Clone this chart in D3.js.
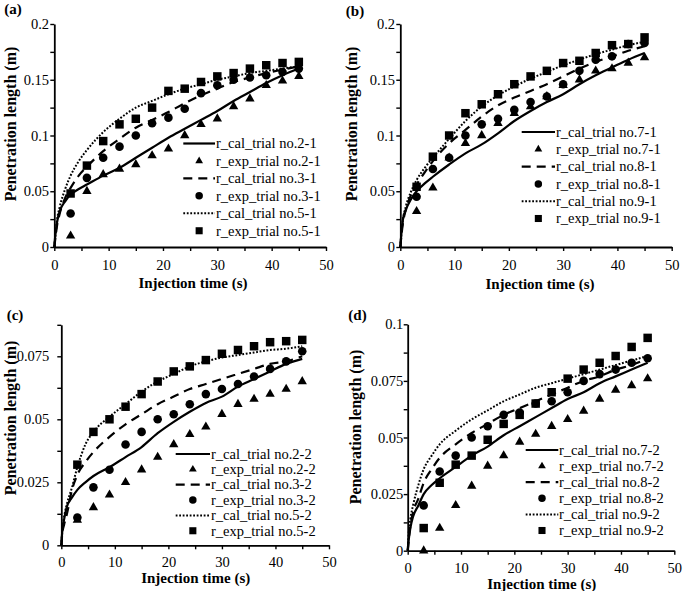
<!DOCTYPE html>
<html><head><meta charset="utf-8">
<script src="https://cdn.jsdelivr.net/npm/d3@7/dist/d3.min.js"></script>
<style>
body{margin:0;background:#fff;}
svg{display:block;}
svg text{font-family:"Liberation Serif","Times New Roman",Times,serif;}
</style></head><body>
<svg id="chart" width="685" height="591"></svg>
<script>
// ---------------- DATA ----------------
const tExp = [3, 6, 9, 12, 15, 18, 21, 24, 27, 30, 33, 36, 39, 42, 45];
const tCal = [0, 0.2, 0.5, 1, 2, 3, 4.5, 6, 9, 12, 15, 18, 21, 24, 27, 30, 33, 36, 39, 42, 45];

const xTickVals = [0, 5, 10, 15, 20, 25, 30, 35, 40, 45, 50];
const xLabelVals = [0, 10, 20, 30, 40, 50];
const yTicksAB = [0, 0.025, 0.05, 0.075, 0.1, 0.125, 0.15, 0.175, 0.2];
const yLabelsAB = [0, 0.05, 0.1, 0.15, 0.2];
const yTicksC = [0, 0.0125, 0.025, 0.0375, 0.05, 0.0625, 0.075, 0.0875];
const yLabelsC = [0, 0.025, 0.05, 0.075];
const yTicksD = [0, 0.0125, 0.025, 0.0375, 0.05, 0.0625, 0.075, 0.0875, 0.1];
const yLabelsD = [0, 0.025, 0.05, 0.075, 0.1];

// Panel (a)
const calA_2_1 = [0, 0.011, 0.022, 0.032, 0.041, 0.047, 0.052, 0.056, 0.064, 0.071, 0.080, 0.089, 0.098, 0.106, 0.114, 0.122, 0.131, 0.139, 0.147, 0.154, 0.160];
const expA_2_1 = [0.010, 0.050, 0.065, 0.070, 0.074, 0.082, 0.088, 0.100, 0.110, 0.115, 0.126, 0.133, 0.145, 0.149, 0.153];
const calA_3_1 = [0, 0.008, 0.019, 0.030, 0.044, 0.053, 0.064, 0.072, 0.086, 0.097, 0.107, 0.114, 0.121, 0.129, 0.136, 0.142, 0.148, 0.152, 0.156, 0.159, 0.162];
const expA_3_1 = [0.030, 0.062, 0.080, 0.090, 0.100, 0.111, 0.116, 0.124, 0.138, 0.145, 0.150, 0.152, 0.154, 0.157, 0.160];
const calA_5_1 = [0, 0.010, 0.024, 0.036, 0.052, 0.064, 0.077, 0.087, 0.103, 0.115, 0.125, 0.131, 0.137, 0.142, 0.146, 0.150, 0.153, 0.156, 0.158, 0.160, 0.162];
const expA_5_1 = [0.048, 0.073, 0.095, 0.110, 0.115, 0.125, 0.140, 0.142, 0.148, 0.153, 0.156, 0.160, 0.163, 0.165, 0.166];

// Panel (b)
const calB_7_1 = [0, 0.012, 0.025, 0.033, 0.043, 0.050, 0.057, 0.063, 0.074, 0.084, 0.092, 0.102, 0.113, 0.122, 0.130, 0.137, 0.146, 0.154, 0.161, 0.168, 0.174];
const expB_7_1 = [0.032, 0.053, 0.080, 0.093, 0.100, 0.111, 0.120, 0.126, 0.135, 0.145, 0.150, 0.158, 0.160, 0.165, 0.170];
const calB_8_1 = [0, 0.010, 0.022, 0.033, 0.047, 0.056, 0.067, 0.077, 0.093, 0.105, 0.117, 0.127, 0.134, 0.140, 0.146, 0.153, 0.160, 0.166, 0.171, 0.176, 0.180];
const expB_8_1 = [0.045, 0.070, 0.080, 0.100, 0.110, 0.115, 0.123, 0.130, 0.135, 0.146, 0.158, 0.168, 0.171, 0.182, 0.183];
const calB_9_1 = [0, 0.012, 0.025, 0.036, 0.050, 0.060, 0.071, 0.080, 0.097, 0.113, 0.126, 0.136, 0.144, 0.151, 0.157, 0.163, 0.168, 0.173, 0.177, 0.181, 0.184];
const expB_9_1 = [0.054, 0.081, 0.100, 0.120, 0.128, 0.137, 0.146, 0.153, 0.158, 0.165, 0.167, 0.174, 0.181, 0.182, 0.188];

// Panel (c)
const calC_2_2 = [0, 0.006, 0.010, 0.015, 0.019, 0.022, 0.025, 0.0275, 0.031, 0.035, 0.039, 0.0445, 0.049, 0.053, 0.0565, 0.059, 0.063, 0.066, 0.069, 0.072, 0.074];
const expC_2_2 = [0.010, 0.015, 0.020, 0.025, 0.030, 0.035, 0.040, 0.044, 0.047, 0.052, 0.056, 0.058, 0.060, 0.062, 0.065];
const calC_3_2 = [0, 0.005, 0.008, 0.012, 0.022, 0.028, 0.033, 0.037, 0.043, 0.048, 0.052, 0.056, 0.059, 0.062, 0.064, 0.066, 0.068, 0.070, 0.072, 0.073, 0.075];
const expC_3_2 = [0.011, 0.023, 0.030, 0.040, 0.045, 0.050, 0.052, 0.056, 0.060, 0.062, 0.064, 0.067, 0.070, 0.073, 0.077];
const calC_5_2 = [0, 0.006, 0.011, 0.016, 0.023, 0.031, 0.040, 0.045, 0.051, 0.056, 0.061, 0.065, 0.068, 0.071, 0.073, 0.0745, 0.0755, 0.0765, 0.0775, 0.078, 0.079];
const expC_5_2 = [0.032, 0.045, 0.050, 0.055, 0.060, 0.065, 0.069, 0.071, 0.0735, 0.076, 0.0775, 0.079, 0.0806, 0.081, 0.0815];

// Panel (d)
const calD_7_2 = [0, 0.005, 0.010, 0.015, 0.020, 0.025, 0.029, 0.032, 0.037, 0.042, 0.046, 0.051, 0.055, 0.059, 0.063, 0.067, 0.070, 0.074, 0.077, 0.080, 0.083];
const expD_7_2 = [0.000, 0.010, 0.020, 0.0286, 0.0374, 0.042, 0.048, 0.0515, 0.055, 0.058, 0.0617, 0.067, 0.071, 0.073, 0.076];
const calD_8_2 = [0, 0.005, 0.011, 0.017, 0.023, 0.030, 0.036, 0.041, 0.047, 0.052, 0.056, 0.060, 0.063, 0.066, 0.069, 0.072, 0.075, 0.077, 0.080, 0.082, 0.085];
const expD_8_2 = [0.020, 0.035, 0.042, 0.050, 0.055, 0.060, 0.061, 0.065, 0.066, 0.070, 0.075, 0.078, 0.080, 0.083, 0.085];
const calD_9_2 = [0, 0.008, 0.014, 0.020, 0.029, 0.036, 0.042, 0.047, 0.053, 0.058, 0.062, 0.066, 0.069, 0.072, 0.074, 0.076, 0.078, 0.080, 0.082, 0.084, 0.086];
const expD_9_2 = [0.010, 0.030, 0.038, 0.042, 0.049, 0.056, 0.060, 0.065, 0.070, 0.076, 0.080, 0.083, 0.086, 0.090, 0.094];

const legendA = ["r_cal_trial no.2-1", "r_exp_trial no.2-1", "r_cal_trial no.3-1", "r_exp_trial no.3-1", "r_cal_trial no.5-1", "r_exp_trial no.5-1"];
const legendB = ["r_cal_trial no.7-1", "r_exp_trial no.7-1", "r_cal_trial no.8-1", "r_exp_trial no.8-1", "r_cal_trial no.9-1", "r_exp_trial no.9-1"];
const legendC = ["r_cal_trial no.2-2", "r_exp_trial no.2-2", "r_cal_trial no.3-2", "r_exp_trial no.3-2", "r_cal_trial no.5-2", "r_exp_trial no.5-2"];
const legendD = ["r_cal_trial no.7-2", "r_exp_trial no.7-2", "r_cal_trial no.8-2", "r_exp_trial no.8-2", "r_cal_trial no.9-2", "r_exp_trial no.9-2"];

const panelLabels = ["(a)", "(b)", "(c)", "(d)"];
const xTitle = "Injection time (s)";
const yTitle = "Penetration length (m)";

// ---------------- STYLE / LAYOUT ----------------
const FONT = '"Liberation Serif", "Times New Roman", Times, serif';
const lineStyles = [
  {dash: null, width: 2.2},
  {dash: "9,6", width: 2.2},
  {dash: "1.8,1.7", width: 2}
];
const markerTypes = [d3.symbolTriangle, d3.symbolCircle, d3.symbolSquare];
const markerSizes = [38, 58, 72];
const legendMarkerSizes = [26, 44, 50];

const panels = [
  {label: panelLabels[0], legend: legendA, cal: [calA_2_1, calA_3_1, calA_5_1], exp: [expA_2_1, expA_3_1, expA_5_1],
   yTicks: yTicksAB, yLabels: yLabelsAB, yMax: 0.2,
   x0: 54.3, x1: 326, y0: 247, yTop: 24, yPad: 1.3, xPad: 8.5,
   xt: [193, 283], yt: [10, 124], pl: [13, 9],
   lg: {x0: 183.3, x1: 215, tx: 216, y: 143.5, dy: 17.45}},
  {label: panelLabels[1], legend: legendB, cal: [calB_7_1, calB_8_1, calB_9_1], exp: [expB_7_1, expB_8_1, expB_9_1],
   yTicks: yTicksAB, yLabels: yLabelsAB, yMax: 0.2,
   x0: 400.3, x1: 671.7, y0: 247, yTop: 24, yPad: 1.3, xPad: 8.5,
   xt: [540, 283.5], yt: [351.7, 124], pl: [355, 11],
   lg: {x0: 521.7, x1: 555, tx: 556, y: 132, dy: 17.3}},
  {label: panelLabels[2], legend: legendC, cal: [calC_2_2, calC_3_2, calC_5_2], exp: [expC_2_2, expC_3_2, expC_5_2],
   yTicks: yTicksC, yLabels: yLabelsC, yMax: 0.0875,
   x0: 61.3, x1: 329, y0: 545.3, yTop: 324.8, yPad: 8, xPad: 7.5,
   xt: [195.7, 577.5], yt: [10, 418], pl: [15, 315],
   lg: {x0: 175.7, x1: 210, tx: 211, y: 454, dy: 15.35}},
  {label: panelLabels[3], legend: legendD, cal: [calD_7_2, calD_8_2, calD_9_2], exp: [expD_7_2, expD_8_2, expD_9_2],
   yTicks: yTicksD, yLabels: yLabelsD, yMax: 0.1,
   x0: 407.7, x1: 674.3, y0: 550.7, yTop: 324.3, yPad: 0.4, xPad: 8,
   xt: [541.7, 584], yt: [355, 427], pl: [357.5, 315],
   lg: {x0: 525.7, x1: 558.3, tx: 559, y: 450, dy: 16.1}}
];

const svg = d3.select("#chart");
const TICK_FONT = 14.5, LEG_FONT = 14.5, TITLE_FONT = 15;

function isLabel(v, arr) { return arr.some(a => Math.abs(a - v) < 1e-9); }

panels.forEach(p => {
  const g = svg.append("g");
  const x = d3.scaleLinear().domain([0, 50]).range([p.x0, p.x1]);
  const y = d3.scaleLinear().domain([0, p.yMax]).range([p.y0, p.yTop]);

  const yAxis = d3.axisLeft(y).tickValues(p.yTicks).tickSize(4).tickSizeOuter(0).tickPadding(p.yPad)
    .tickFormat(d => isLabel(d, p.yLabels) ? String(d) : "");
  const xAxis = d3.axisBottom(x).tickValues(xTickVals).tickSize(4).tickSizeOuter(0).tickPadding(p.xPad)
    .tickFormat(d => isLabel(d, xLabelVals) ? String(d) : "");

  const ga = g.append("g").attr("transform", `translate(${p.x0},0)`).call(yAxis);
  const gb = g.append("g").attr("transform", `translate(0,${p.y0})`).call(xAxis);
  [ga, gb].forEach(a => {
    a.attr("font-family", FONT).attr("font-size", TICK_FONT);
    a.select(".domain").attr("stroke", "#000").attr("stroke-width", 1.8);
    a.selectAll(".tick line").attr("stroke", "#000").attr("stroke-width", 1.4);
    a.selectAll(".tick text").attr("fill", "#000").attr("font-family", FONT).attr("font-size", TICK_FONT);
  });

  p.cal.forEach((vals, i) => {
    const pts = tCal.map((t, k) => [t, vals[k]]);
    const line = d3.line().x(d => x(d[0])).y(d => y(d[1])).curve(d3.curveMonotoneX);
    g.append("path").attr("d", line(pts)).attr("fill", "none").attr("stroke", "#000")
      .attr("stroke-width", lineStyles[i].width)
      .attr("stroke-dasharray", lineStyles[i].dash);
  });
  p.exp.forEach((vals, i) => {
    const sym = d3.symbol().type(markerTypes[i]).size(markerSizes[i]);
    g.selectAll(null).data(tExp.map((t, k) => [t, vals[k]])).enter().append("path")
      .attr("d", sym).attr("transform", d => `translate(${x(d[0])},${y(d[1])})`).attr("fill", "#000");
  });

  p.legend.forEach((name, k) => {
    const cy = p.lg.y + k * p.lg.dy;
    const si = Math.floor(k / 2);
    if (k % 2 === 0) {
      g.append("line").attr("x1", p.lg.x0).attr("x2", p.lg.x1).attr("y1", cy).attr("y2", cy)
        .attr("stroke", "#000").attr("stroke-width", lineStyles[si].width)
        .attr("stroke-dasharray", lineStyles[si].dash);
    } else {
      const sym = d3.symbol().type(markerTypes[si]).size(legendMarkerSizes[si]);
      g.append("path").attr("d", sym).attr("transform", `translate(${(p.lg.x0 + p.lg.x1) / 2},${cy})`).attr("fill", "#000");
    }
    g.append("text").attr("x", p.lg.tx).attr("y", cy).attr("dy", "0.33em")
      .attr("font-family", FONT).attr("font-size", LEG_FONT).attr("fill", "#000").text(name);
  });

  g.append("text").attr("x", p.xt[0]).attr("y", p.xt[1]).attr("dy", "0.35em").attr("text-anchor", "middle")
    .attr("font-family", FONT).attr("font-weight", "bold").attr("font-size", TITLE_FONT).text(xTitle);
  g.append("text").attr("transform", `translate(${p.yt[0]},${p.yt[1]}) rotate(-90)`).attr("dy", "0.35em")
    .attr("text-anchor", "middle").attr("font-family", FONT).attr("font-weight", "bold").attr("font-size", 16).text(yTitle);
  g.append("text").attr("x", p.pl[0]).attr("y", p.pl[1]).attr("dy", "0.35em").attr("text-anchor", "middle")
    .attr("font-family", FONT).attr("font-weight", "bold").attr("font-size", TITLE_FONT).text(p.label);
});
</script>
</body></html>
